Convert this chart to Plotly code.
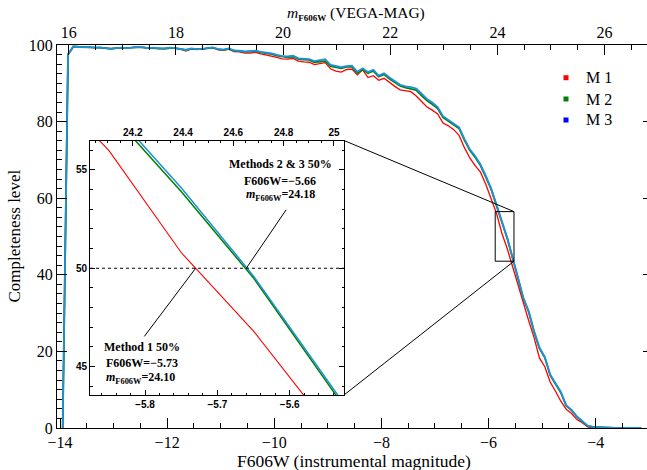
import numpy as np
import plotly.graph_objects as go

# Completeness (%) per 0.1 mag bin of instrumental F606W magnitude
mag_first = -13.95
mag_step = 0.1

m1 = [0.0, 97.4, 99.6, 99.6, 99.4, 99.4, 99.3, 99.3, 99.2, 99.1,
      99.2, 99.3, 99.1, 99.4, 99.5, 99.3, 99.2, 99.2, 99.0, 99.1,
      99.2, 99.1, 98.9, 98.4, 99.0, 98.8, 98.9, 99.1, 99.3, 98.7,
      98.6, 98.9, 98.3, 98.2, 97.9, 97.9, 98.1, 97.7, 97.4, 97.2,
      96.8, 96.4, 96.3, 96.5, 95.8, 95.6, 95.5, 94.9, 95.1, 95.4,
      93.8, 93.2, 92.9, 93.6, 93.7, 92.2, 93.5, 91.5, 92.0, 90.8,
      91.3, 90.2, 89.2, 88.3, 88.0, 87.8, 86.7, 85.3, 83.8, 83.0,
      82.0, 79.6, 78.9, 77.9, 76.4, 73.2, 70.5, 68.5, 66.8, 63.6,
      59.8, 56.0, 50.8, 46.8, 42.1, 37.4, 32.2, 28.0, 23.6, 18.3,
      16.0, 12.0, 9.6, 7.0, 4.9, 3.8, 2.2, 1.4, 0.3, 0.0,
      0.1, 0.0, 0.0, 0.0, 0.0, 0.0, 0.0, 0.0, 0.0]

m2 = [0.0, 97.5, 99.6, 99.5, 99.4, 99.4, 99.3, 99.3, 99.2, 99.0,
      99.2, 99.2, 99.2, 99.3, 99.4, 99.4, 99.2, 99.2, 99.1, 99.0,
      99.2, 99.2, 98.9, 98.7, 99.0, 98.9, 98.9, 99.1, 99.3, 98.9,
      98.7, 99.0, 98.5, 98.4, 98.2, 98.3, 98.4, 98.1, 97.9, 97.6,
      97.2, 97.0, 96.8, 97.0, 96.3, 96.2, 96.1, 95.5, 95.7, 95.8,
      94.5, 94.1, 93.9, 94.3, 94.3, 92.7, 93.6, 92.6, 93.2, 91.7,
      92.3, 91.2, 90.2, 89.3, 88.9, 88.5, 88.2, 86.8, 85.5, 84.5,
      83.4, 81.1, 80.1, 79.3, 78.2, 75.2, 72.5, 70.7, 68.5, 65.5,
      62.3, 58.0, 53.9, 49.5, 44.3, 39.1, 33.8, 30.3, 25.1, 20.8,
      18.4, 13.8, 11.6, 9.2, 5.8, 4.6, 2.9, 1.8, 0.5, 0.3,
      0.2, 0.1, 0.0, 0.0, 0.0, 0.0, 0.0, 0.0, 0.0]

m3 = [0.0, 97.6, 99.6, 99.5, 99.4, 99.5, 99.3, 99.4, 99.2, 99.0,
      99.2, 99.3, 99.2, 99.4, 99.5, 99.4, 99.2, 99.3, 99.1, 99.1,
      99.3, 99.2, 99.0, 98.7, 99.1, 98.9, 99.0, 99.2, 99.4, 98.9,
      98.8, 99.1, 98.6, 98.5, 98.3, 98.4, 98.5, 98.2, 98.0, 97.8,
      97.4, 97.1, 97.0, 97.2, 96.5, 96.4, 96.3, 95.8, 96.0, 96.3,
      94.8, 94.4, 94.2, 94.5, 94.6, 93.0, 93.9, 92.9, 93.5, 92.0,
      92.6, 91.5, 90.5, 89.6, 89.2, 89.0, 88.6, 87.2, 85.9, 85.0,
      83.8, 81.4, 80.4, 79.6, 78.5, 75.5, 72.8, 71.0, 68.8, 65.8,
      62.5, 58.2, 54.1, 49.6, 44.4, 39.3, 34.0, 30.5, 25.3, 21.0,
      18.6, 14.0, 11.8, 9.4, 5.9, 4.7, 3.0, 1.9, 0.6, 0.3,
      0.2, 0.1, 0.0, 0.0, 0.0, 0.0, 0.0, 0.0, 0.0]

series_names = ["M 1", "M 2", "M 3"]
line_colors = ["#ff0000", "#008000", "#1f8fdc"]
legend_colors = ["#ff0000", "#008000", "#0000ff"]

mag = np.round(mag_first + mag_step * np.arange(len(m3)), 2)

# 50% completeness levels quoted in the zoom panel
half_level = 50
method1_half = -5.73
method1_vega = 24.10
methods23_half = -5.66
methods23_vega = 24.18

# axes
x_range = [-14.056, -3.042]
y_range = [0, 100]
vega_offset = 29.835
inset_x_range = [-5.876, -5.525]
inset_y_range = [43.55, 56.5]
inset_top_range = [24.03, 25.04]

W, H = 647, 470
ML, MR, MT, MB = 57, 0, 45, 42
PW, PH = W - ML - MR, H - MT - MB


def px(x):
    return (x - ML) / PW


def py(y):
    return (H - MB - y) / PH


inset_dom_x = [px(90), px(344)]
inset_dom_y = [py(395), py(140.5)]

serif = "Liberation Serif"
sans = "Liberation Sans"

fig = go.Figure()

# main panel curves
for vals, name, col, lw in zip([m1, m2, m3], series_names, line_colors, [1.3, 1.8, 1.8]):
    fig.add_trace(go.Scatter(x=mag, y=vals, mode="lines", name=name,
                             line=dict(color=col, width=lw), showlegend=False,
                             xaxis="x", yaxis="y"))

# opaque background of the zoom panel
fig.add_trace(go.Scatter(
    x=[inset_x_range[0], inset_x_range[1], inset_x_range[1], inset_x_range[0], inset_x_range[0]],
    y=[inset_y_range[0], inset_y_range[0], inset_y_range[1], inset_y_range[1], inset_y_range[0]],
    mode="lines", fill="toself", fillcolor="white", line=dict(width=0, color="white"),
    hoverinfo="skip", showlegend=False, xaxis="x3", yaxis="y3"))

# zoom panel curves
for vals, col, lw in zip([m1, m2, m3], line_colors, [1.1, 1.5, 1.5]):
    fig.add_trace(go.Scatter(x=mag, y=vals, mode="lines", line=dict(color=col, width=lw),
                             showlegend=False, xaxis="x3", yaxis="y3"))

tick_font = dict(family=serif, size=16, color="black")
inset_font = dict(family=sans, size=10, color="black", weight="bold")
common = dict(showgrid=False, zeroline=False, linecolor="black", linewidth=1,
              ticks="inside", tickcolor="black", tickwidth=1)

fig.update_layout(
    width=W, height=H, margin=dict(l=ML, r=MR, t=MT, b=MB),
    paper_bgcolor="white", plot_bgcolor="white", showlegend=False,
    xaxis=dict(domain=[0, 1], range=x_range, anchor="y", showline=True, mirror=False,
               tick0=-14, dtick=2, ticklen=10, tickfont=tick_font,
               minor=dict(dtick=0.5, tick0=-14, ticklen=5, ticks="inside", tickcolor="black"),
               **common),
    xaxis2=dict(range=[x_range[0] + vega_offset, x_range[1] + vega_offset], overlaying="x",
                side="top", anchor="y", showline=True, tick0=16, dtick=2, ticklen=10,
                tickfont=tick_font,
                minor=dict(dtick=0.5, tick0=16, ticklen=5, ticks="inside", tickcolor="black"),
                **common),
    yaxis=dict(domain=[0, 1], range=y_range, anchor="x", showline=True, mirror=False,
               tick0=0, dtick=20, ticklen=10, tickfont=tick_font,
               minor=dict(dtick=2.5, tick0=0, ticklen=5, ticks="inside", tickcolor="black"),
               **common),
    yaxis2=dict(range=y_range, overlaying="y", side="right", anchor="x", showline=False,
                tick0=0, dtick=20, ticklen=4, showticklabels=False,
                **{k: v for k, v in common.items() if k != "linewidth"}),
    xaxis3=dict(domain=inset_dom_x, range=inset_x_range, anchor="y3", showline=True,
                tick0=-5.8, dtick=0.1, ticklen=5, tickfont=inset_font,
                minor=dict(dtick=0.02, tick0=-5.8, ticklen=2.5, ticks="inside", tickcolor="black"),
                **common),
    xaxis4=dict(range=inset_top_range, overlaying="x3", side="top", anchor="y3", showline=True,
                tick0=24.2, dtick=0.2, ticklen=5, tickfont=inset_font,
                minor=dict(dtick=0.05, tick0=24.2, ticklen=2.5, ticks="inside", tickcolor="black"),
                **common),
    yaxis3=dict(domain=inset_dom_y, range=inset_y_range, anchor="x3", showline=True,
                mirror="ticks", tick0=45, dtick=5, ticklen=5, tickfont=inset_font,
                minor=dict(dtick=1, tick0=45, ticklen=2.5, ticks="inside", tickcolor="black"),
                **common),
)

# empty traces so the secondary axes are drawn
fig.add_trace(go.Scatter(x=[], y=[], xaxis="x2", yaxis="y", showlegend=False))
fig.add_trace(go.Scatter(x=[], y=[], xaxis="x", yaxis="y2", showlegend=False))
fig.add_trace(go.Scatter(x=[], y=[], xaxis="x4", yaxis="y3", showlegend=False))


def to_paper(x, y):
    return ((x - x_range[0]) / (x_range[1] - x_range[0]),
            (y - y_range[0]) / (y_range[1] - y_range[0]))


shapes = []
# zoomed region in the main panel
shapes.append(dict(type="rect", xref="x", yref="y", x0=inset_x_range[0], x1=inset_x_range[1],
                   y0=inset_y_range[0], y1=inset_y_range[1], line=dict(color="black", width=1)))
bx, by_top = to_paper(inset_x_range[1], inset_y_range[1])
_, by_bot = to_paper(inset_x_range[1], inset_y_range[0])
shapes.append(dict(type="line", xref="paper", yref="paper", x0=inset_dom_x[1], y0=inset_dom_y[1],
                   x1=bx, y1=by_top, line=dict(color="black", width=1)))
shapes.append(dict(type="line", xref="paper", yref="paper", x0=inset_dom_x[1], y0=inset_dom_y[0],
                   x1=bx, y1=by_bot, line=dict(color="black", width=1)))
# 50% level
shapes.append(dict(type="line", xref="x3 domain", yref="y3", x0=0, x1=1, y0=half_level,
                   y1=half_level, line=dict(color="black", width=1, dash="dot")))
# pointers from the notes to the 50% crossings
shapes.append(dict(type="line", xref="x3", yref="y3", x0=-5.605, y0=52.97,
                   x1=methods23_half, y1=half_level, line=dict(color="black", width=1)))
shapes.append(dict(type="line", xref="x3", yref="y3", x0=-5.801, y0=46.53,
                   x1=method1_half, y1=half_level, line=dict(color="black", width=1)))

# legend markers
legend_y = [py(77.7), py(99), py(120)]
for yy, col in zip(legend_y, legend_colors):
    shapes.append(dict(type="rect", xref="paper", yref="paper", xsizemode="pixel",
                       ysizemode="pixel", xanchor=px(566), yanchor=yy, x0=-2.5, x1=2.5,
                       y0=-2.5, y1=2.5, fillcolor=col, line=dict(width=0)))
fig.update_layout(shapes=shapes)

ann = []
for yy, name in zip(legend_y, series_names):
    ann.append(dict(xref="paper", yref="paper", x=px(584), y=yy, text=name, showarrow=False,
                    xanchor="left", yanchor="middle", font=dict(family=serif, size=16, color="black")))

ann.append(dict(xref="paper", yref="paper", x=px(354), y=py(461), text="F606W (instrumental magnitude)",
                showarrow=False, xanchor="center", yanchor="middle",
                font=dict(family=serif, size=17.5, color="black")))
ann.append(dict(xref="paper", yref="paper", x=px(356), y=py(13),
                text="<i>m</i><sub><b style='font-size:9px'>F606W</b></sub> (VEGA-MAG)",
                showarrow=False, xanchor="center", yanchor="middle",
                font=dict(family=serif, size=15.5, color="black")))
ann.append(dict(xref="paper", yref="paper", x=px(14), y=0.5, text="Completeness level",
                showarrow=False, textangle=-90, xanchor="center", yanchor="middle",
                font=dict(family=serif, size=17, color="black")))

note_font = dict(family=serif, size=12, color="black", weight="bold")
notes = [
    (-5.613, 55.29, "Methods 2 & 3 50%"),
    (-5.613, 54.44, "F606W=\u2212%.2f" % abs(methods23_half)),
    (-5.613, 53.73, "<i>m</i><sub style='font-size:7px'>F606W</sub>=%.2f" % methods23_vega),
    (-5.804, 45.97, "Method 1 50%"),
    (-5.804, 45.20, "F606W=\u2212%.2f" % abs(method1_half)),
    (-5.806, 44.44, "<i>m</i><sub style='font-size:7px'>F606W</sub>=%.2f" % method1_vega),
]
for x, y, t in notes:
    ann.append(dict(xref="x3", yref="y3", x=x, y=y, text=t, showarrow=False,
                    xanchor="center", yanchor="middle", font=note_font))
fig.update_layout(annotations=ann)

fig.write_html("out.html")
